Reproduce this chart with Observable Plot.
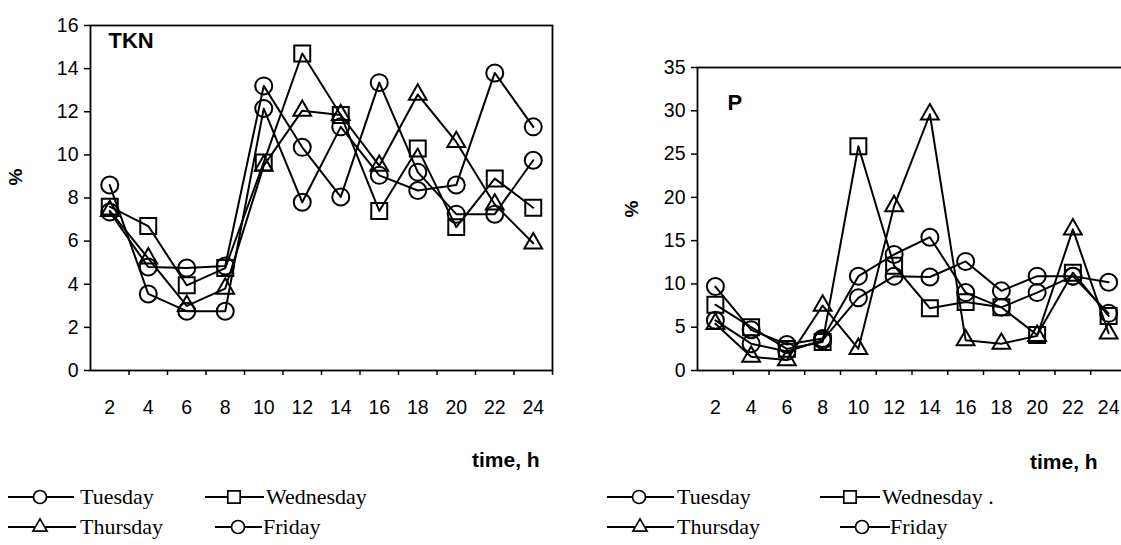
<!DOCTYPE html>
<html>
<head>
<meta charset="utf-8">
<script src="https://cdn.jsdelivr.net/npm/d3@7"></script>
<script src="https://cdn.jsdelivr.net/npm/@observablehq/plot@0.6"></script>
<style>
  html, body { margin: 0; padding: 0; overflow: hidden; background: white; }
  #wrap { position: relative; width: 1121px; height: 545px; overflow: hidden; background: white; }
  .abs { position: absolute; }
  .axt { font-family: "Liberation Sans", Arial, sans-serif; font-weight: bold; color: black; white-space: nowrap; }
</style>
</head>
<body>
<div id="wrap"></div>
<script>
// ---------- data ----------
const hours = [2, 4, 6, 8, 10, 12, 14, 16, 18, 20, 22, 24];
const days = ["Tuesday", "Wednesday", "Thursday", "Friday"];

// TKN (%)
const tknTuesday   = [8.6, 3.55, 2.75, 2.75, 12.15, 7.8, 11.3, 9.05, 8.35, 8.6, 13.8, 11.3];
const tknWednesday = [7.6, 6.7, 3.95, 4.75, 9.65, 14.7, 11.85, 7.4, 10.3, 6.65, 8.9, 7.55];
const tknThursday  = [7.4, 5.2, 3.0, 3.8, 9.5, 12.05, 11.85, 9.5, 12.8, 10.6, 7.7, 5.9];
const tknFriday    = [7.35, 4.8, 4.75, 4.85, 13.2, 10.35, 8.05, 13.35, 9.2, 7.25, 7.25, 9.75];

// P (%)
const pTuesday   = [9.7, 4.7, 3.0, 3.7, 10.9, 13.4, 15.4, 9.0, 7.3, 9.0, 10.9, 6.6];
const pWednesday = [7.6, 5.0, 2.5, 3.3, 25.9, 12.1, 7.2, 7.9, 7.3, 4.1, 11.3, 6.3];
const pThursday  = [5.4, 1.6, 1.2, 7.5, 2.5, 19.0, 29.6, 3.5, 3.1, 4.0, 16.3, 4.3];
const pFriday    = [5.8, 3.1, 2.2, 3.5, 8.4, 10.9, 10.8, 12.6, 9.2, 10.9, 10.9, 10.2];

const tknTicks = [0, 2, 4, 6, 8, 10, 12, 14, 16];
const pTicks = [0, 5, 10, 15, 20, 25, 30, 35];
const bandTicks = [3, 5, 7, 9, 11, 13, 15, 17, 19, 21, 23, 25];

const symbolOf = {Tuesday: "circle", Wednesday: "square", Thursday: "triangle", Friday: "circle"};

function rows(series) {
  const out = [];
  days.forEach((d, k) => hours.forEach((h, i) => out.push({h, v: series[k][i], day: d})));
  return out;
}

function panel({data, yMax, yTicks, marginLeft, marginTop, width, marginRight, label, ldx, ldy}) {
  const line = {stroke: "black", strokeWidth: 2};
  const dotStyle = {stroke: "black", strokeWidth: 2, fill: "none"};
  return Plot.plot({
    width, height: 430,
    marginLeft, marginRight, marginTop, marginBottom: 60,
    x: {domain: [1, 25]},
    y: {domain: [0, yMax]},
    style: {fontFamily: "'Liberation Sans', Arial, sans-serif", color: "black", background: "transparent", overflow: "visible"},
    marks: [
      Plot.frame({stroke: "black", strokeWidth: 1.8}),
      Plot.axisY({ticks: yTicks, tickSize: 6, tickPadding: 6, fontSize: 19.5, label: null, strokeWidth: 1.5}),
      Plot.axisX({ticks: hours, tickSize: 0, tickPadding: 30, fontSize: 19.5, label: null}),
      Plot.axisX({ticks: bandTicks, tickSize: 5, tickFormat: () => "", label: null, strokeWidth: 1.5}),
      Plot.line(data, {x: "h", y: "v", z: "day", ...line}),
      Plot.dot(data.filter(d => symbolOf[d.day] === "circle"), {x: "h", y: "v", symbol: "circle", r: 8.5, ...dotStyle}),
      Plot.dot(data.filter(d => symbolOf[d.day] === "square"), {x: "h", y: "v", symbol: "square", r: 9, ...dotStyle}),
      Plot.dot(data.filter(d => symbolOf[d.day] === "triangle"), {x: "h", y: "v", symbol: "triangle", r: 6.6, ...dotStyle}),
      Plot.text([label], {frameAnchor: "top-left", textAnchor: "start", lineAnchor: "top", dx: ldx, dy: ldy, fontSize: 22, fontWeight: "bold"})
    ]
  });
}

const wrap = document.getElementById("wrap");

const left = panel({
  data: rows([tknTuesday, tknWednesday, tknThursday, tknFriday]),
  yMax: 16, yTicks: tknTicks, marginLeft: 90, marginTop: 25, width: 560, marginRight: 8,
  label: "TKN", ldx: 18, ldy: 7
});
left.classList.add("abs"); left.style.left = "0px"; left.style.top = "0px";
wrap.appendChild(left);

const right = panel({
  data: rows([pTuesday, pWednesday, pThursday, pFriday]),
  yMax: 35, yTicks: pTicks, marginLeft: 97, marginTop: 67, width: 540, marginRight: 14,
  label: "P", ldx: 30, ldy: 27
});
right.classList.add("abs"); right.style.left = "600px"; right.style.top = "0px";
wrap.appendChild(right);

// ---------- axis titles ----------
function addText(txt, x, y, size, extra = "") {
  const d = document.createElement("div");
  d.className = "abs axt";
  d.textContent = txt;
  d.style.left = x + "px"; d.style.top = y + "px"; d.style.fontSize = size + "px";
  d.style.cssText += extra;
  wrap.appendChild(d);
  return d;
}
addText("time, h", 472, 448, 21);
addText("time, h", 1030, 450, 21);
addText("%", 8, 166, 19, "transform: rotate(-90deg); transform-origin: 50% 50%;");
addText("%", 624, 198, 19, "transform: rotate(-90deg); transform-origin: 50% 50%;");

// ---------- legends ----------
const ns = "http://www.w3.org/2000/svg";
const lg = document.createElementNS(ns, "svg");
lg.setAttribute("width", 1121); lg.setAttribute("height", 545);
lg.setAttribute("class", "abs"); lg.style.left = "0px"; lg.style.top = "0px";
wrap.appendChild(lg);

const symSize = {circle: Math.PI * 6.5 * 6.5, square: Math.PI * 7 * 7, triangle: Math.PI * 5.2 * 5.2};
const d3sym = {circle: d3.symbolCircle, square: d3.symbolSquare, triangle: d3.symbolTriangle};
function legendItem(day, x1, x2, cx, y, tx, extraText = "") {
  const ln = document.createElementNS(ns, "line");
  ln.setAttribute("x1", x1); ln.setAttribute("x2", x2); ln.setAttribute("y1", y); ln.setAttribute("y2", y);
  ln.setAttribute("stroke", "black"); ln.setAttribute("stroke-width", 2);
  lg.appendChild(ln);
  const s = symbolOf[day];
  const p = document.createElementNS(ns, "path");
  p.setAttribute("d", d3.symbol(d3sym[s], symSize[s])());
  p.setAttribute("transform", `translate(${cx},${y})`);
  p.setAttribute("fill", "white"); p.setAttribute("stroke", "black"); p.setAttribute("stroke-width", 1.7);
  lg.appendChild(p);
  const t = document.createElementNS(ns, "text");
  t.setAttribute("x", tx); t.setAttribute("y", y + 7);
  t.setAttribute("font-family", "'Liberation Serif', 'Times New Roman', serif");
  t.setAttribute("font-size", 22);
  t.textContent = day + extraText;
  lg.appendChild(t);
}
legendItem("Tuesday", 8, 74, 40, 497, 80);
legendItem("Wednesday", 205, 264, 234, 497, 266);
legendItem("Thursday", 8, 76, 40, 527, 80);
legendItem("Friday", 215, 262, 238, 527, 263);
legendItem("Tuesday", 607, 674, 639, 497, 677);
legendItem("Wednesday", 820, 880, 850, 497, 882, "  .");
legendItem("Thursday", 607, 674, 640, 527, 677);
legendItem("Friday", 840, 890, 862, 527, 890);
</script>
</body>
</html>
